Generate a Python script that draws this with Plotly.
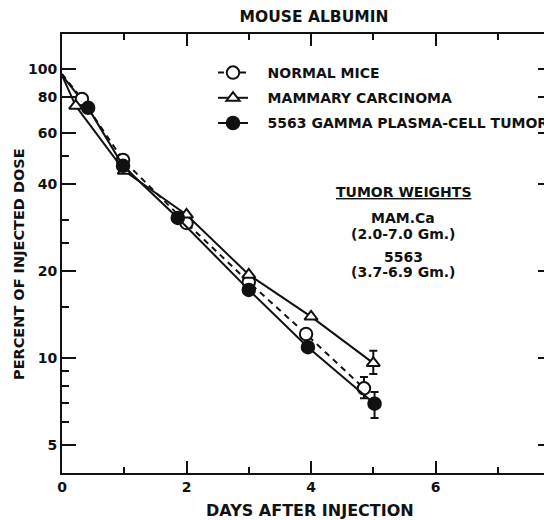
import plotly.graph_objects as go

# ---- data ----
series_names = ["NORMAL MICE", "MAMMARY CARCINOMA", "5563 GAMMA PLASMA-CELL TUMOR"]

days_normal = [0.32, 0.98, 2.0, 3.0, 3.92, 4.85]
pct_normal = [78.7, 48.4, 29.3, 18.3, 12.1, 7.85]
err_normal_plus = [None, None, None, None, None, 0.75]
err_normal_minus = [None, None, None, None, None, 0.6]

days_mammary = [0.22, 1.0, 2.0, 3.0, 4.0, 5.0]
pct_mammary = [74.5, 44.4, 31.3, 19.4, 13.9, 9.6]
err_mammary_plus = [None, None, None, None, None, 1.0]
err_mammary_minus = [None, None, None, None, None, 0.8]

days_5563 = [0.42, 0.98, 1.86, 3.0, 3.95, 5.02]
pct_5563 = [73.3, 46.2, 30.5, 17.2, 10.9, 6.95]
err_5563_plus = [None, None, None, None, None, 0.68]
err_5563_minus = [None, None, None, None, None, 0.75]

start_day = 0
start_pct = [96, 95, 95]

x_tickvals = [0, 2, 4, 6]
x_minor = [1, 3, 5, 7]
y_tickvals = [5, 10, 20, 40, 60, 80, 100]
y_ticktext = ["5", "10", "20", "40", "60", "80", "100"]
y_minor = [6, 7, 8, 9, 15, 25, 30, 50]

FONT = "DejaVu Sans"
BLACK = "#111111"

# page layout (the page body has an 8px margin)
OFF = 8
PLOT_L, PLOT_R, PLOT_T, PLOT_B = 62, 552, 34, 473
W, H = 552 - OFF, 520 - OFF


def px(xp):
    return (xp - PLOT_L) / (PLOT_R - PLOT_L)


def py(yp):
    return (PLOT_B - yp) / (PLOT_B - PLOT_T)


fig = go.Figure()

specs = [
    (days_normal, pct_normal, err_normal_plus, err_normal_minus, "circle", "white", "6px,5px"),
    (days_mammary, pct_mammary, err_mammary_plus, err_mammary_minus, "triangle-up", "white", "solid"),
    (days_5563, pct_5563, err_5563_plus, err_5563_minus, "circle", BLACK, "solid"),
]

# extrapolated line segments back to day 0
for i, (dx, dy, ep, em, sym, fill, dash) in enumerate(specs):
    fig.add_trace(go.Scatter(
        x=[start_day, dx[0]], y=[start_pct[i], dy[0]], mode="lines",
        line=dict(color=BLACK, width=2, dash=dash), showlegend=False, hoverinfo="skip"))

for i, (dx, dy, ep, em, sym, fill, dash) in enumerate(specs):
    fig.add_trace(go.Scatter(
        x=dx, y=dy, mode="lines+markers",
        name="\u00a0\u00a0\u00a0" + series_names[i],
        legendgroup=f"g{i}",
        line=dict(color=BLACK, width=2, dash=dash),
        marker=dict(symbol=sym, size=12.5 if sym == "circle" else 11.5, color=fill,
                    line=dict(color=BLACK, width=2)),
        error_y=dict(type="data", array=ep, arrayminus=em, symmetric=False,
                     color=BLACK, thickness=2, width=4),
    ))

fig.update_layout(
    width=W, height=H,
    margin=dict(l=PLOT_L - OFF, r=W - (PLOT_R - OFF), t=PLOT_T - OFF, b=H - (PLOT_B - OFF),
                autoexpand=False),
    paper_bgcolor="white", plot_bgcolor="white",
    font=dict(family=FONT, color=BLACK, size=14, weight=700),
    title=dict(text="MOUSE ALBUMIN", x=(314 - OFF) / W, xref="container", xanchor="center",
               y=1 - (17 - OFF) / H, yref="container", yanchor="middle",
               font=dict(family=FONT, size=15.5, weight=700, color=BLACK)),
    showlegend=True,
    legend=dict(x=px(213), xanchor="left", y=py(57), yanchor="top",
                bgcolor="rgba(0,0,0,0)", borderwidth=0, tracegroupgap=4,
                font=dict(family=FONT, size=14, weight=700, color=BLACK)),
    xaxis=dict(range=[0, 7.87], showgrid=False, zeroline=False,
               showline=True, linecolor=BLACK, linewidth=2, mirror="ticks",
               ticks="inside", ticklen=12, tickwidth=1.5, tickcolor=BLACK,
               tickvals=x_tickvals, ticktext=[str(v) for v in x_tickvals],
               minor=dict(tickvals=x_minor, ticks="inside", ticklen=6, tickwidth=1.5, tickcolor=BLACK),
               tickfont=dict(family=FONT, size=14, weight=700, color=BLACK)),
    yaxis=dict(type="log", range=[0.6021, 2.1206], showgrid=False, zeroline=False,
               showline=True, linecolor=BLACK, linewidth=2, mirror="ticks",
               ticks="inside", ticklen=14, tickwidth=1.5, tickcolor=BLACK,
               tickvals=y_tickvals, ticktext=y_ticktext,
               minor=dict(tickvals=y_minor, ticks="inside", ticklen=7, tickwidth=1.5, tickcolor=BLACK),
               tickfont=dict(family=FONT, size=14, weight=700, color=BLACK)),
)

# axis titles
fig.add_annotation(text="DAYS AFTER INJECTION", xref="paper", yref="paper",
                   x=px(310), y=py(510), xanchor="center", yanchor="middle",
                   showarrow=False, font=dict(family=FONT, size=16, weight=700, color=BLACK))
fig.add_annotation(text="PERCENT OF INJECTED DOSE", xref="paper", yref="paper",
                   x=px(19), y=py(264), xanchor="center", yanchor="middle",
                   textangle=-90, showarrow=False,
                   font=dict(family=FONT, size=14.5, weight=700, color=BLACK))

# tumor weights note
note_lines = [("<u>TUMOR WEIGHTS</u>", 192), ("MAM.Ca", 218), ("(2.0-7.0 Gm.)", 234),
              ("5563", 257), ("(3.7-6.9 Gm.)", 272)]
for txt, yp in note_lines:
    fig.add_annotation(text=txt, xref="paper", yref="paper",
                       x=px(403), y=py(yp), xanchor="center", yanchor="middle",
                       showarrow=False, font=dict(family=FONT, size=14, weight=700, color=BLACK))

fig.write_html("out.html")
